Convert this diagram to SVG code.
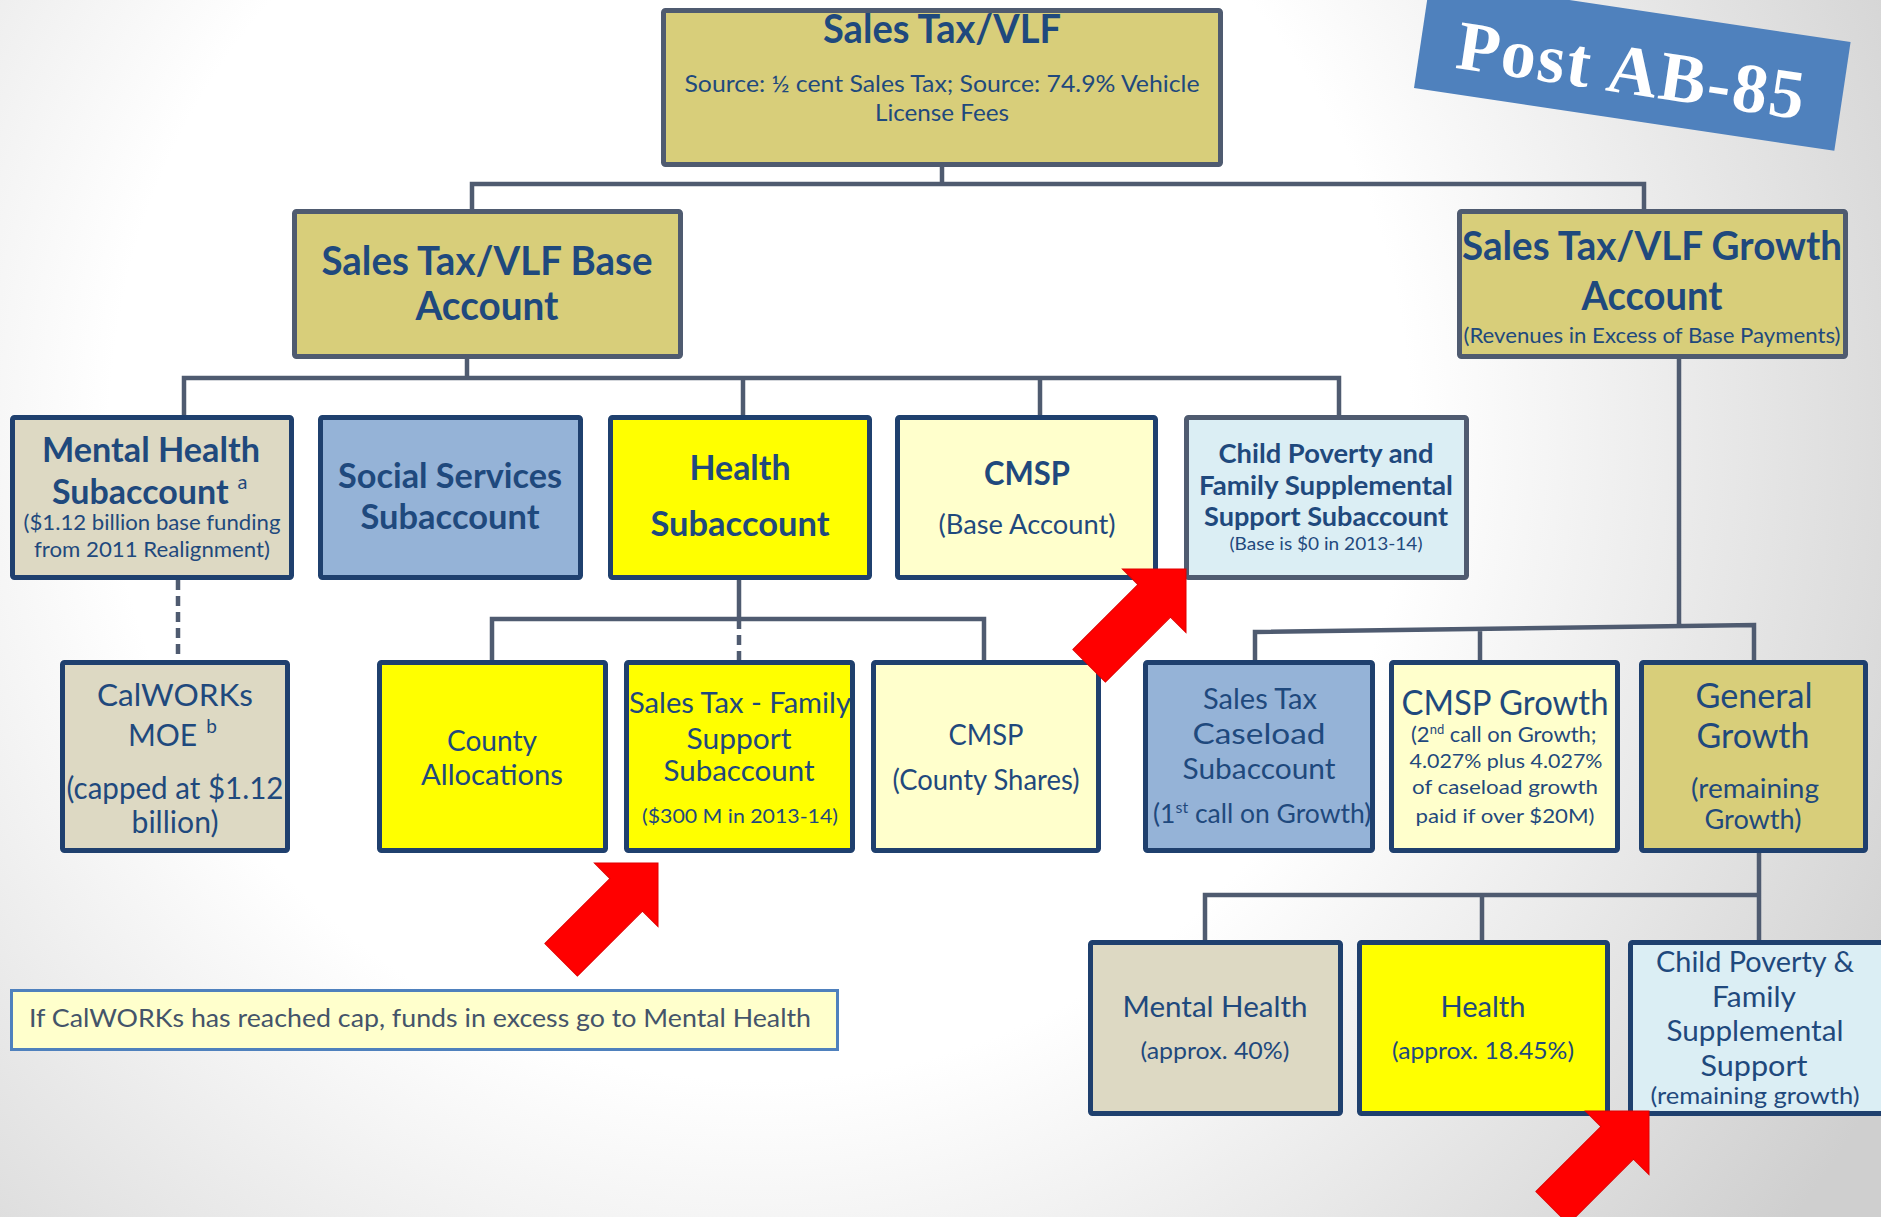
<svg xmlns="http://www.w3.org/2000/svg" xmlns:xlink="http://www.w3.org/1999/xlink" width="1881" height="1217" viewBox="0 0 1881 1217">
  <defs>
    <radialGradient id="bg" gradientUnits="userSpaceOnUse" cx="760" cy="430" r="1300">
      <stop offset="0.5" stop-color="#FFFFFF"/>
      <stop offset="1" stop-color="#CFCFCF"/>
    </radialGradient>
    <!-- block arrow pointing along +x, tip at origin -->
    <polygon id="redArrow" points="0,0 -45,-45 -45,-23 -137,-23 -137,23 -45,23 -45,45"/>
    <style>
      .box { stroke-width: 5; }
      .navy { stroke: #1F406E; }
      .slate { stroke: #4F5B70; }
      .khaki { fill: #D8CE7A; }
      .beige { fill: #DDD9C3; }
      .blue { fill: #95B3D7; }
      .yellow { fill: #FFFF00; }
      .cream { fill: #FFFFCC; }
      .ice { fill: #DBEEF4; }
      text { font-family: Lato, "Open Sans", "Liberation Sans", sans-serif; fill: #1F497D; }
      .c { text-anchor: middle; }
      .b { font-weight: 700; }
      .wire { fill: none; stroke: #4F5B70; stroke-width: 4.5; }
      .dash { stroke-dasharray: 10 6; }
      .arrow { fill: #FF0000; stroke: #E00000; stroke-width: 1; }
    </style>
  </defs>

  <rect width="1881" height="1217" fill="url(#bg)"/>

  <!-- connectors -->
  <g id="connectors">
    <path class="wire" d="M942 167V184M472 209V184H1644V209"/>
    <path class="wire" d="M467 359V378M184 415V378H1339V415M743 378V415M1040 378V415"/>
    <path class="wire dash" d="M178 580V660"/>
    <path class="wire" d="M739 580V619M492 660V619H984V660"/>
    <path class="wire dash" d="M739 619V660"/>
    <path class="wire" d="M1679 359V626M1255 660V632L1754 625V660M1480 629V660"/>
    <path class="wire" d="M1759 853V895M1205 940V895H1759V940M1482 895V940"/>
  </g>

  <!-- top level -->
  <g id="sales-tax-vlf">
    <rect class="box slate khaki" x="663.5" y="10.5" width="557" height="154" rx="2"/>
    <text class="c b" x="942" y="43" font-size="40" textLength="238" lengthAdjust="spacingAndGlyphs">Sales Tax/VLF</text>
    <text class="c" x="942" y="92" font-size="23" textLength="515" lengthAdjust="spacingAndGlyphs">Source: ½ cent Sales Tax; Source: 74.9% Vehicle</text>
    <text class="c" x="942" y="121" font-size="23" textLength="134" lengthAdjust="spacingAndGlyphs">License Fees</text>
  </g>

  <g id="base-account">
    <rect class="box slate khaki" x="294.5" y="211.5" width="386" height="145" rx="2"/>
    <text class="c b" x="487" y="275" font-size="40" textLength="331" lengthAdjust="spacingAndGlyphs">Sales Tax/VLF Base</text>
    <text class="c b" x="487" y="320" font-size="40" textLength="143" lengthAdjust="spacingAndGlyphs">Account</text>
  </g>

  <g id="growth-account">
    <rect class="box slate khaki" x="1459.5" y="211.5" width="386" height="145" rx="2"/>
    <text class="c b" x="1652" y="260" font-size="40" textLength="380" lengthAdjust="spacingAndGlyphs">Sales Tax/VLF Growth</text>
    <text class="c b" x="1652" y="310" font-size="40" textLength="141" lengthAdjust="spacingAndGlyphs">Account</text>
    <text class="c" x="1652" y="343" font-size="21" textLength="377" lengthAdjust="spacingAndGlyphs">(Revenues in Excess of Base Payments)</text>
  </g>

  <!-- base subaccounts -->
  <g id="mental-health-sub">
    <rect class="box navy beige" x="12.5" y="417.5" width="279" height="160" rx="2"/>
    <text class="c b" x="151" y="462" font-size="34" textLength="218" lengthAdjust="spacingAndGlyphs">Mental Health</text>
    <text class="b" x="52" y="504" font-size="34">Subaccount<tspan dx="9" dy="-15" font-size="20" font-weight="400">a</tspan></text>
    <text class="c" x="152" y="530" font-size="21" textLength="257" lengthAdjust="spacingAndGlyphs">($1.12 billion base funding</text>
    <text class="c" x="152" y="557" font-size="21" textLength="236" lengthAdjust="spacingAndGlyphs">from 2011 Realignment)</text>
  </g>

  <g id="social-services-sub">
    <rect class="box navy blue" x="320.5" y="417.5" width="260" height="160" rx="2"/>
    <text class="c b" x="450" y="488" font-size="34" textLength="224" lengthAdjust="spacingAndGlyphs">Social Services</text>
    <text class="c b" x="450" y="529" font-size="34" textLength="179" lengthAdjust="spacingAndGlyphs">Subaccount</text>
  </g>

  <g id="health-sub">
    <rect class="box navy yellow" x="610.5" y="417.5" width="259" height="160" rx="2"/>
    <text class="c b" x="740" y="480" font-size="34" textLength="101" lengthAdjust="spacingAndGlyphs">Health</text>
    <text class="c b" x="740" y="536" font-size="34" textLength="179" lengthAdjust="spacingAndGlyphs">Subaccount</text>
  </g>

  <g id="cmsp-base">
    <rect class="box navy cream" x="897.5" y="417.5" width="258" height="160" rx="2"/>
    <text class="c b" x="1027" y="485" font-size="33" textLength="86" lengthAdjust="spacingAndGlyphs">CMSP</text>
    <text class="c" x="1027" y="534" font-size="26" textLength="177" lengthAdjust="spacingAndGlyphs">(Base Account)</text>
  </g>

  <g id="child-poverty-sub">
    <rect class="box slate ice" x="1186.5" y="417.5" width="280" height="160" rx="2"/>
    <text class="c b" x="1326" y="463" font-size="27" textLength="215" lengthAdjust="spacingAndGlyphs">Child Poverty and</text>
    <text class="c b" x="1326" y="495" font-size="27" textLength="254" lengthAdjust="spacingAndGlyphs">Family Supplemental</text>
    <text class="c b" x="1326" y="526" font-size="27" textLength="244" lengthAdjust="spacingAndGlyphs">Support Subaccount</text>
    <text class="c" x="1326" y="550" font-size="18" textLength="193" lengthAdjust="spacingAndGlyphs">(Base is $0 in 2013-14)</text>
  </g>

  <!-- second tier -->
  <g id="calworks-moe">
    <rect class="box navy beige" x="62.5" y="662.5" width="225" height="188" rx="2"/>
    <text class="c" x="175" y="706" font-size="30" textLength="156" lengthAdjust="spacingAndGlyphs">CalWORKs</text>
    <text x="128" y="746" font-size="30">MOE<tspan dx="9" dy="-13" font-size="19">b</tspan></text>
    <text class="c" x="175" y="799" font-size="30" textLength="217" lengthAdjust="spacingAndGlyphs">(capped at $1.12</text>
    <text class="c" x="175" y="833" font-size="30" textLength="87" lengthAdjust="spacingAndGlyphs">billion)</text>
  </g>

  <g id="county-allocations">
    <rect class="box navy yellow" x="379.5" y="662.5" width="226" height="188" rx="2"/>
    <text class="c" x="492" y="751" font-size="29" textLength="90" lengthAdjust="spacingAndGlyphs">County</text>
    <text class="c" x="492" y="785" font-size="29" textLength="142" lengthAdjust="spacingAndGlyphs">Allocations</text>
  </g>

  <g id="family-support-sub">
    <rect class="box navy yellow" x="626.5" y="662.5" width="226" height="188" rx="2"/>
    <text class="c" x="740" y="713" font-size="29" textLength="222" lengthAdjust="spacingAndGlyphs">Sales Tax - Family</text>
    <text class="c" x="739" y="749" font-size="29" textLength="105" lengthAdjust="spacingAndGlyphs">Support</text>
    <text class="c" x="739" y="781" font-size="29" textLength="151" lengthAdjust="spacingAndGlyphs">Subaccount</text>
    <text class="c" x="740" y="823" font-size="20" textLength="196" lengthAdjust="spacingAndGlyphs">($300 M in 2013-14)</text>
  </g>

  <g id="cmsp-county">
    <rect class="box navy cream" x="873.5" y="662.5" width="225" height="188" rx="2"/>
    <text class="c" x="986" y="745" font-size="29" textLength="75" lengthAdjust="spacingAndGlyphs">CMSP</text>
    <text class="c" x="986" y="790" font-size="29" textLength="187" lengthAdjust="spacingAndGlyphs">(County Shares)</text>
  </g>

  <g id="caseload-sub">
    <rect class="box navy blue" x="1145.5" y="662.5" width="227" height="188" rx="2"/>
    <text class="c" x="1260" y="709" font-size="29" textLength="114" lengthAdjust="spacingAndGlyphs">Sales Tax</text>
    <text class="c" x="1259" y="744" font-size="29" textLength="133" lengthAdjust="spacingAndGlyphs">Caseload</text>
    <text class="c" x="1259" y="779" font-size="29" textLength="153" lengthAdjust="spacingAndGlyphs">Subaccount</text>
    <text x="1153" y="823" font-size="26.5">(1<tspan dy="-10" font-size="16">st</tspan><tspan dy="10"> call on Growth)</tspan></text>
  </g>

  <g id="cmsp-growth">
    <rect class="box navy cream" x="1391.5" y="662.5" width="226" height="188" rx="2"/>
    <text class="c" x="1505" y="715" font-size="35" textLength="207" lengthAdjust="spacingAndGlyphs">CMSP Growth</text>
    <text x="1411" y="742" font-size="22">(2<tspan dy="-8" font-size="13">nd</tspan><tspan dy="8"> call on Growth;</tspan></text>
    <text class="c" x="1506" y="768" font-size="20" textLength="193" lengthAdjust="spacingAndGlyphs">4.027% plus 4.027%</text>
    <text class="c" x="1505" y="794" font-size="20" textLength="186" lengthAdjust="spacingAndGlyphs">of caseload growth</text>
    <text class="c" x="1505" y="823" font-size="20" textLength="179" lengthAdjust="spacingAndGlyphs">paid if over $20M)</text>
  </g>

  <g id="general-growth">
    <rect class="box navy khaki" x="1641.5" y="662.5" width="224" height="188" rx="2"/>
    <text class="c" x="1754" y="708" font-size="35" textLength="117" lengthAdjust="spacingAndGlyphs">General</text>
    <text class="c" x="1753" y="748" font-size="35" textLength="113" lengthAdjust="spacingAndGlyphs">Growth</text>
    <text class="c" x="1755" y="798" font-size="27" textLength="128" lengthAdjust="spacingAndGlyphs">(remaining</text>
    <text class="c" x="1753" y="829" font-size="27" textLength="97" lengthAdjust="spacingAndGlyphs">Growth)</text>
  </g>

  <!-- general growth split -->
  <g id="growth-mental-health">
    <rect class="box navy beige" x="1090.5" y="942.5" width="250" height="171" rx="2"/>
    <text class="c" x="1215" y="1017" font-size="29" textLength="185" lengthAdjust="spacingAndGlyphs">Mental Health</text>
    <text class="c" x="1215" y="1059" font-size="24" textLength="149" lengthAdjust="spacingAndGlyphs">(approx. 40%)</text>
  </g>

  <g id="growth-health">
    <rect class="box navy yellow" x="1359.5" y="942.5" width="248" height="171" rx="2"/>
    <text class="c" x="1483" y="1017" font-size="29" textLength="85" lengthAdjust="spacingAndGlyphs">Health</text>
    <text class="c" x="1483" y="1059" font-size="24" textLength="182" lengthAdjust="spacingAndGlyphs">(approx. 18.45%)</text>
  </g>

  <g id="growth-child-poverty">
    <rect class="box navy ice" x="1630.5" y="942.5" width="262" height="171" rx="2"/>
    <text class="c" x="1755" y="972" font-size="28" textLength="198" lengthAdjust="spacingAndGlyphs">Child Poverty &amp;</text>
    <text class="c" x="1754" y="1007" font-size="28" textLength="84" lengthAdjust="spacingAndGlyphs">Family</text>
    <text class="c" x="1755" y="1041" font-size="28" textLength="177" lengthAdjust="spacingAndGlyphs">Supplemental</text>
    <text class="c" x="1754" y="1076" font-size="28" textLength="107" lengthAdjust="spacingAndGlyphs">Support</text>
    <text class="c" x="1755" y="1104" font-size="24" textLength="209" lengthAdjust="spacingAndGlyphs">(remaining growth)</text>
  </g>

  <!-- footnote -->
  <g id="calworks-note">
    <rect x="11.5" y="990.5" width="826" height="59" fill="#FFFFCC" stroke="#4F81BD" stroke-width="3"/>
    <text x="29" y="1027" font-size="25" style="fill:#44546A" textLength="782" lengthAdjust="spacingAndGlyphs">If CalWORKs has reached cap, funds in excess go to Mental Health</text>
  </g>

  <!-- banner -->
  <g id="post-ab85" transform="translate(1414 88) rotate(8.5)">
    <rect x="0" y="-110" width="425" height="110" fill="#4F81BD"/>
    <text x="213" y="-26" text-anchor="middle" font-size="70" font-weight="700" letter-spacing="2" style="font-family:'Liberation Serif', 'Times New Roman', serif; fill:#FFFFFF">Post AB-85</text>
  </g>

  <!-- highlight arrows -->
  <g id="highlights">
    <use xlink:href="#redArrow" class="arrow" transform="translate(1186 569) rotate(-45)"/>
    <use xlink:href="#redArrow" class="arrow" transform="translate(658 863) rotate(-45)"/>
    <use xlink:href="#redArrow" class="arrow" transform="translate(1649 1111) rotate(-45)"/>
  </g>
</svg>
